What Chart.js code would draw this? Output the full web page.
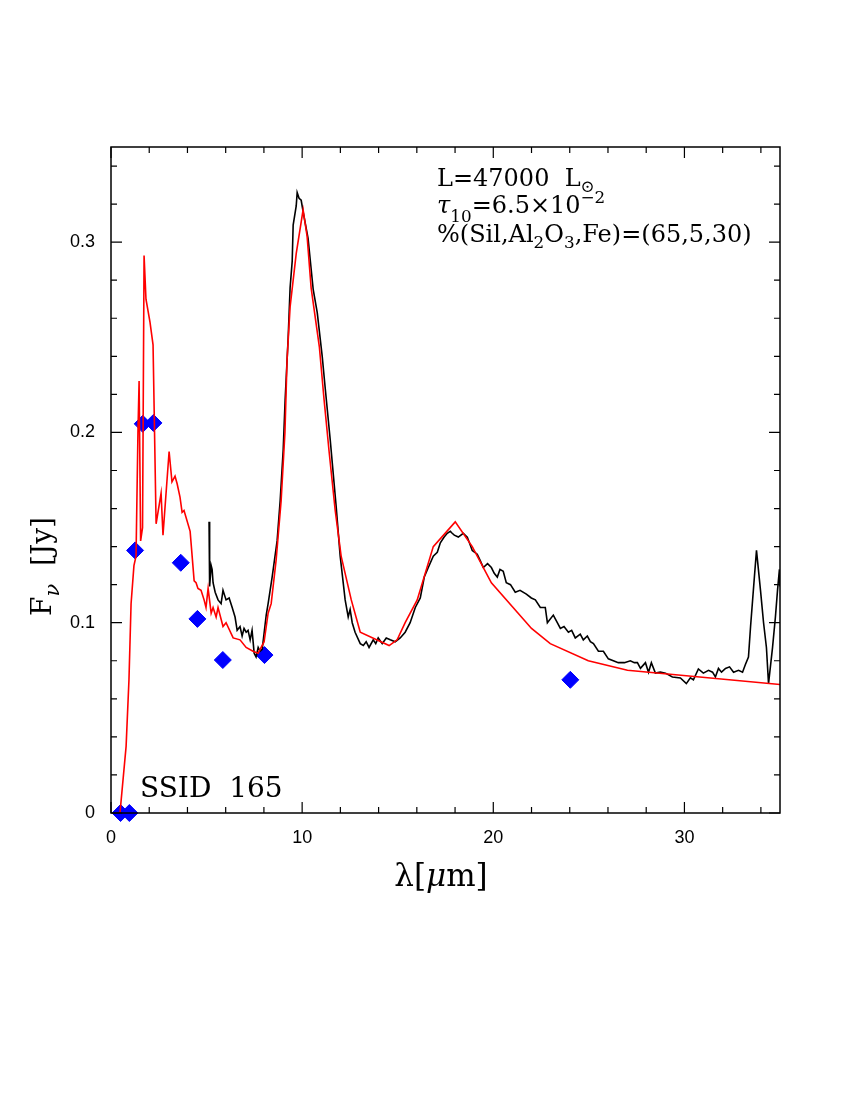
<!DOCTYPE html>
<html>
<head>
<meta charset="utf-8">
<script src="https://cdn.jsdelivr.net/npm/chart.js@4.4.0/dist/chart.umd.min.js"></script>
<style>
html, body { margin: 0; padding: 0; background: #fff; }
</style>
</head>
<body>
<canvas id="sedChart" width="850" height="1100"></canvas>
<script>
// model SED (red)
const modelX = [0.30, 0.47, 0.79, 0.94, 1.05, 1.20, 1.31, 1.41, 1.47, 1.55,
    1.65, 1.73, 1.83, 2.04, 2.20, 2.36, 2.62, 2.72, 3.04, 3.19,
    3.35, 3.46, 3.61, 3.72, 3.82, 4.14, 4.35, 4.45, 4.55, 4.71,
    4.87, 4.97, 5.08, 5.24, 5.34, 5.50, 5.60, 5.86, 6.02, 6.39,
    6.75, 7.07, 7.43, 7.70, 8.01, 8.22, 8.38, 8.64, 8.90, 9.10,
    9.21, 9.37, 9.69, 10.05, 10.26, 10.47, 10.90, 11.15, 11.41, 11.73,
    12.04, 12.57, 13.04, 14.55, 14.97, 15.39, 16.02, 16.86, 18.01, 18.90,
    19.90, 22.0, 22.98, 24.97, 27.02, 35.0];
const modelY = [0.000, 0.000, 0.035, 0.070, 0.110, 0.130, 0.135, 0.200, 0.227, 0.143,
    0.150, 0.293, 0.270, 0.258, 0.246, 0.152, 0.168, 0.146, 0.190, 0.174,
    0.177, 0.173, 0.166, 0.158, 0.159, 0.148, 0.122, 0.121, 0.118, 0.117,
    0.112, 0.108, 0.118, 0.105, 0.108, 0.103, 0.108, 0.098, 0.100, 0.092,
    0.091, 0.087, 0.085, 0.084, 0.090, 0.105, 0.110, 0.133, 0.164, 0.200,
    0.238, 0.266, 0.294, 0.317, 0.303, 0.276, 0.245, 0.217, 0.190, 0.159,
    0.135, 0.112, 0.095, 0.088, 0.091, 0.100, 0.112, 0.140, 0.153, 0.140,
    0.121, 0.097, 0.089, 0.080, 0.075, 0.0675];

// IRS spectrum (black)
const obsX = [5.13, 5.16, 5.24, 5.29, 5.34, 5.45, 5.60, 5.76, 5.86, 6.02,
    6.18, 6.34, 6.49, 6.60, 6.75, 6.86, 6.96, 7.07, 7.17, 7.28,
    7.38, 7.49, 7.59, 7.70, 7.80, 7.91, 8.12, 8.22, 8.43, 8.69,
    8.85, 9.01, 9.11, 9.27, 9.37, 9.48, 9.53, 9.69, 9.74, 9.84,
    9.95, 10.05, 10.31, 10.58, 10.79, 11.05, 11.20, 11.47, 11.78,
    11.99, 12.25, 12.41, 12.51, 12.62, 12.77, 13.04, 13.20, 13.35, 13.50, 13.72, 13.85, 13.98,
    14.19, 14.40, 14.61, 14.87, 15.13, 15.39, 15.65, 15.92, 16.18, 16.39, 16.60,
    16.86, 17.07, 17.23, 17.43, 17.59, 17.75, 17.85, 17.96, 18.17, 18.43,
    18.64, 18.90, 19.16, 19.30, 19.48, 19.70, 19.90, 20.05, 20.21, 20.35, 20.52, 20.68, 20.90, 21.15, 21.40, 21.73,
    21.99, 22.20, 22.46, 22.72, 22.83, 23.14, 23.30, 23.51, 23.70, 23.93, 24.10, 24.29, 24.55, 24.71,
    24.92, 25.08, 25.24, 25.50, 25.76, 26.02, 26.28, 26.54, 26.86, 27.17, 27.38,
    27.54, 27.70, 27.96, 28.12, 28.27, 28.48, 28.74, 29.01, 29.37, 29.79,
    30.10, 30.31, 30.47, 30.73, 30.99, 31.26, 31.47, 31.62, 31.78, 31.94,
    32.15, 32.36, 32.57, 32.83, 33.04, 33.19, 33.35, 33.46, 33.66, 33.77,
    33.98, 34.14, 34.29, 34.40, 34.61, 34.76, 34.87, 34.97, 35.00];
const obsY = [0.153, 0.119, 0.130, 0.128, 0.121, 0.116, 0.112, 0.110, 0.117, 0.112,
    0.113, 0.108, 0.103, 0.096, 0.098, 0.093, 0.097, 0.095, 0.096, 0.091,
    0.096, 0.084, 0.082, 0.087, 0.085, 0.086, 0.104, 0.110, 0.124, 0.143,
    0.164, 0.191, 0.217, 0.250, 0.276, 0.290, 0.309, 0.319, 0.326, 0.323,
    0.322, 0.316, 0.302, 0.275, 0.263, 0.240, 0.224, 0.196, 0.161,
    0.135, 0.112, 0.103, 0.107, 0.100, 0.095, 0.089, 0.088, 0.090, 0.087, 0.091, 0.089, 0.092,
    0.089, 0.092, 0.091, 0.090, 0.092, 0.095, 0.100, 0.108, 0.113, 0.124, 0.129,
    0.135, 0.137, 0.142, 0.145, 0.147, 0.148, 0.147, 0.146, 0.145, 0.147,
    0.145, 0.138, 0.136, 0.133, 0.129, 0.131, 0.129, 0.126, 0.124, 0.128, 0.127, 0.121, 0.120, 0.116, 0.117, 0.115,
    0.113, 0.112, 0.108, 0.108, 0.100, 0.104, 0.101, 0.097, 0.098, 0.095, 0.096, 0.092, 0.094, 0.091,
    0.093, 0.090, 0.089, 0.085, 0.085, 0.081, 0.080, 0.079, 0.079, 0.080, 0.079,
    0.079, 0.076, 0.079, 0.074, 0.079, 0.0735, 0.074, 0.0735, 0.0715, 0.071,
    0.068, 0.071, 0.070, 0.0757, 0.0735, 0.075, 0.074, 0.0715, 0.076, 0.074,
    0.076, 0.0768, 0.074, 0.075, 0.074, 0.078, 0.082, 0.098, 0.124, 0.138,
    0.117, 0.100, 0.087, 0.068, 0.087, 0.103, 0.117, 0.128, 0.119];

// photometry (blue diamonds)
const photX = [0.50, 0.96, 1.26, 1.66, 2.22, 3.65, 4.52, 5.85, 8.03, 24.03];
const photY = [0.000, 0.000, 0.138, 0.2045, 0.205, 0.1315, 0.102, 0.0804, 0.083, 0.070];

const xTicks = [0, 10, 20, 30];
const yTicks = [0, 0.1, 0.2, 0.3];

function toPoints(xs, ys) {
    return xs.map((x, i) => ({x: x, y: ys[i]}));
}

const SERIF = '"DejaVu Serif", serif';

// draw a run of text pieces with sub/superscripts
function richText(ctx, x, y, parts, size) {
    let cx = x;
    parts.forEach(function(p) {
        const s = size * (p.s || 1);
        ctx.font = (p.i ? 'italic ' : '') + s + 'px ' + SERIF;
        ctx.fillText(p.t, cx, y + (p.dy || 0) * size);
        cx += ctx.measureText(p.t).width;
    });
    return cx - x;
}

function richWidth(ctx, parts, size) {
    let w = 0;
    parts.forEach(function(p) {
        ctx.font = (p.i ? 'italic ' : '') + size * (p.s || 1) + 'px ' + SERIF;
        w += ctx.measureText(p.t).width;
    });
    return w;
}

const framePlugin = {
    id: 'frame',
    afterDatasetsDraw(chart) {
        const ctx = chart.ctx;
        const a = chart.chartArea;
        const xs = chart.scales.x, ys = chart.scales.y;
        ctx.save();
        ctx.strokeStyle = '#000';
        ctx.lineWidth = 1.5;
        ctx.strokeRect(a.left, a.top, a.right - a.left, a.bottom - a.top);
        ctx.lineWidth = 1.2;
        ctx.beginPath();
        for (let v = 0; v <= 35; v += 2) {
            const px = xs.getPixelForValue(v);
            const len = (v % 10 === 0) ? 11 : 6;
            ctx.moveTo(px, a.bottom); ctx.lineTo(px, a.bottom - len);
            ctx.moveTo(px, a.top); ctx.lineTo(px, a.top + len);
        }
        for (let k = 0; k <= 17; k++) {
            const py = ys.getPixelForValue(k * 0.02);
            const len = (k % 5 === 0) ? 11 : 6;
            ctx.moveTo(a.left, py); ctx.lineTo(a.left + len, py);
            ctx.moveTo(a.right, py); ctx.lineTo(a.right - len, py);
        }
        ctx.stroke();

        ctx.fillStyle = '#000';
        ctx.textAlign = 'left';
        ctx.textBaseline = 'alphabetic';
        // model parameters
        richText(ctx, 437, 186, [{t: 'L=47000  L'}, {t: '\u2299', s: 0.7, dy: 0.25}], 24);
        richText(ctx, 437, 213, [{t: '\u03c4', i: true}, {t: '10', s: 0.7, dy: 0.38},
            {t: '=6.5\u00d710'}, {t: '\u22122', s: 0.7, dy: -0.42}], 24);
        richText(ctx, 437, 242, [{t: '%(Sil,Al'}, {t: '2', s: 0.7, dy: 0.25}, {t: 'O'},
            {t: '3', s: 0.7, dy: 0.25}, {t: ',Fe)=(65,5,30)'}], 24);
        // source id
        richText(ctx, 140, 797, [{t: 'SSID  165'}], 28);

        // axis titles
        const xt = [{t: '\u03bb['}, {t: '\u03bc', i: true}, {t: 'm]'}];
        richText(ctx, 441 - richWidth(ctx, xt, 31) / 2, 886, xt, 31);

        ctx.translate(51, 616);
        ctx.rotate(-Math.PI / 2);
        richText(ctx, 0, 0, [{t: 'F'}, {t: '\u03bd', i: true, s: 0.75, dy: 0.3}, {t: '  [Jy]'}], 28);
        ctx.restore();
    }
};

function drawSed() {
    const ctx = document.getElementById('sedChart').getContext('2d');
    const tickFont = { family: '"Liberation Sans", Arial, sans-serif', size: 18 };
    const config = {
        type: 'scatter',
        data: {
            datasets: [{
                label: 'model',
                data: toPoints(modelX, modelY),
                showLine: true,
                borderColor: '#ff0000',
                borderWidth: 1.6,
                pointRadius: 0,
                tension: 0
            }, {
                label: 'IRS',
                data: toPoints(obsX, obsY),
                showLine: true,
                borderColor: '#000000',
                borderWidth: 1.6,
                pointRadius: 0,
                tension: 0
            }, {
                label: 'photometry',
                data: toPoints(photX, photY),
                showLine: false,
                pointStyle: 'rectRot',
                pointRadius: 8.5,
                backgroundColor: '#0000ff',
                borderColor: '#0000ff',
                borderWidth: 1,
                clip: false
            }]
        },
        options: {
            responsive: false,
            animation: false,
            devicePixelRatio: 1,
            layout: { padding: { left: 0, right: 70, top: 147, bottom: 0 } },
            plugins: { legend: { display: false }, tooltip: { enabled: false } },
            scales: {
                x: {
                    type: 'linear', min: 0, max: 35,
                    grid: { display: false, drawTicks: false },
                    border: { display: false },
                    afterBuildTicks: s => { s.ticks = xTicks.map(v => ({value: v})); },
                    afterFit: s => { s.height = 287; },
                    ticks: { color: '#000', padding: 14, font: tickFont, callback: v => String(v) }
                },
                y: {
                    type: 'linear', min: 0, max: 0.35,
                    grid: { display: false, drawTicks: false },
                    border: { display: false },
                    afterBuildTicks: s => { s.ticks = yTicks.map(v => ({value: v})); },
                    afterFit: s => { s.width = 111; },
                    ticks: { color: '#000', padding: 16, font: tickFont, callback: v => String(v) }
                }
            }
        },
        plugins: [framePlugin]
    };
    new Chart(ctx, config);
}

window.onload = function() {
    drawSed();
};
</script>
</body>
</html>
